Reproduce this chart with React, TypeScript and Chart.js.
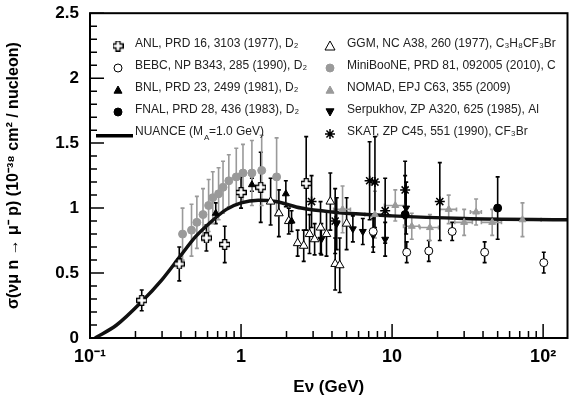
import { useEffect, useRef } from "react"
import { Chart, registerables } from "chart.js"

Chart.register(...registerables)

// [E (GeV), sigma, error]
const anl = [[0.22, 0.29, 0.08], [0.39, 0.57, 0.13], [0.59, 0.77, 0.1], [0.78, 0.72, 0.14], [1.0, 1.12, 0.12], [1.35, 1.16, 0.27], [2.7, 1.19, 0.36]]
const bebc = [[7.5, 0.82, 0.12], [12.5, 0.66, 0.08], [17.5, 0.67, 0.08], [25, 0.82, 0.07], [41, 0.66, 0.08], [101, 0.58, 0.08]]
const bnl = [[0.68, 0.96, 0.08], [1.18, 1.18, 0.05], [1.98, 1.11, 0.1], [2.16, 0.9, 0.08]]
const fnal = [[12.2, 0.95, 0.3], [50, 1.0, 0.24]]
const ggm = [[1.57, 1.05, 0.18], [1.78, 0.96, 0.18], [2.07, 0.9, 0.1], [2.37, 0.73, 0.1], [2.6, 0.71, 0.12], [2.84, 0.8, 0.15], [3.07, 0.76, 0.12], [3.36, 0.85, 0.2], [3.68, 0.8, 0.17], [3.9, 1.05, 0.22], [4.2, 0.57, 0.2], [4.5, 0.56, 0.21], [5.0, 0.88, 0.2]]
const miniboone = [[0.41, 0.8, 0.2], [0.47, 0.83, 0.2], [0.51, 0.89, 0.2], [0.56, 0.95, 0.2], [0.61, 1.02, 0.2], [0.65, 1.08, 0.2], [0.71, 1.11, 0.2], [0.76, 1.16, 0.2], [0.83, 1.21, 0.2], [0.93, 1.24, 0.22], [1.03, 1.27, 0.22], [1.18, 1.27, 0.25], [1.37, 1.29, 0.27], [1.72, 1.24, 0.3]]
const nomad = [[4.7, 0.99, 0.18, 0.6], [7.7, 0.95, 0.18, 1.1], [10.5, 1.02, 0.12, 1.6], [13.5, 0.86, 0.1, 1.6], [17.8, 0.85, 0.1, 2.5], [23.7, 0.99, 0.11, 3], [30, 0.89, 0.1, 4], [36, 0.97, 0.1, 3], [46, 0.89, 0.1, 7], [73, 0.91, 0.13, 24]]
const serpukhov = [[3.4, 0.76, 0.12], [4.3, 0.88, 0.2], [5.5, 0.84, 0.1], [6.4, 0.82, 0.1], [7.5, 0.79, 0.13], [9.0, 0.76, 0.13], [12.4, 1.0, 0.2]]
const skat = [[2.93, 1.05, 0.2], [4.2, 0.9, 0.25], [7.1, 1.21, 0.3], [7.7, 1.2, 0.35], [9.0, 0.98, 0.25], [12.2, 1.14, 0.22], [20.7, 1.05, 0.3]]
const nuanceE = [0.108, 0.15, 0.22, 0.3, 0.39, 0.5, 0.6, 0.8, 1.0, 1.3, 1.7, 2.5, 4, 10, 30, 145]
const nuanceS = [0, 0.1, 0.28, 0.45, 0.62, 0.78, 0.87, 0.99, 1.04, 1.06, 1.05, 1.0, 0.97, 0.94, 0.92, 0.91]

const GREY = "#9a9a9a"
const FONT = "'Liberation Sans', Arial, sans-serif"

const pts = (arr: number[][]) => arr.map((p) => ({ x: p[0], y: p[1], ey: p[2], ex: p[3] }))

// open (outlined) plus marker for ANL
function openCross(): HTMLCanvasElement {
  const c = document.createElement("canvas")
  c.width = 11; c.height = 11
  const g = c.getContext("2d")!
  g.beginPath()
  g.moveTo(3.5, 0.5); g.lineTo(7.5, 0.5); g.lineTo(7.5, 3.5); g.lineTo(10.5, 3.5); g.lineTo(10.5, 7.5); g.lineTo(7.5, 7.5)
  g.lineTo(7.5, 10.5); g.lineTo(3.5, 10.5); g.lineTo(3.5, 7.5); g.lineTo(0.5, 7.5); g.lineTo(0.5, 3.5); g.lineTo(3.5, 3.5); g.closePath()
  g.fillStyle = "#fff"; g.fill()
  g.strokeStyle = "#000"; g.lineWidth = 1.3; g.stroke()
  return c
}

const series: any[] = [
  { label: "ANL, PRD 16, 3103 (1977), D₂", data: pts(anl), pointStyle: "cross", pointRadius: 5, borderWidth: 1, pointBorderColor: "#000", bg: "#fff", err: "#000" },
  { label: "BEBC, NP B343, 285 (1990), D₂", data: pts(bebc), pointStyle: "circle", pointRadius: 4, borderWidth: 1, pointBorderColor: "#000", bg: "#fff", err: "#000" },
  { label: "BNL, PRD 23, 2499 (1981), D₂", data: pts(bnl), pointStyle: "triangle", pointRadius: 4, borderWidth: 1, pointBorderColor: "#000", bg: "#000", err: "#000" },
  { label: "FNAL, PRD 28, 436 (1983), D₂", data: pts(fnal), pointStyle: "circle", pointRadius: 4, borderWidth: 1, pointBorderColor: "#000", bg: "#000", err: "#000" },
  { label: "GGM, NC A38, 260 (1977), C₃H₈CF₃Br", data: pts(ggm), pointStyle: "triangle", pointRadius: 5, borderWidth: 1, pointBorderColor: "#000", bg: "#fff", err: "#000" },
  { label: "MiniBooNE, PRD 81, 092005 (2010), C", data: pts(miniboone), pointStyle: "circle", pointRadius: 4, borderWidth: 1, pointBorderColor: GREY, bg: GREY, err: GREY },
  { label: "NOMAD, EPJ C63, 355 (2009)", data: pts(nomad), pointStyle: "triangle", pointRadius: 4, borderWidth: 1, pointBorderColor: GREY, bg: GREY, err: GREY },
  { label: "Serpukhov, ZP A320, 625 (1985), Al", data: pts(serpukhov), pointStyle: "triangle", rotation: 180, pointRadius: 4, borderWidth: 1, pointBorderColor: "#000", bg: "#000", err: "#000" },
  { label: "SKAT, ZP C45, 551 (1990), CF₃Br", data: pts(skat), pointStyle: "star", pointRadius: 5, borderWidth: 1.5, pointBorderColor: "#000", bg: "#000", err: "#000" },
]

const errorBars = {
  id: "errorBars",
  beforeDatasetsDraw(chart: any) {
    const { ctx, scales } = chart
    const xs = scales.x, ys = scales.y
    ctx.save()
    chart.data.datasets.forEach((ds: any) => {
      if (!ds.err) return
      ctx.strokeStyle = ds.err
      ctx.lineWidth = 1.6
      ds.data.forEach((p: any) => {
        const x = xs.getPixelForValue(p.x)
        const y1 = ys.getPixelForValue(p.y - p.ey)
        const y2 = ys.getPixelForValue(p.y + p.ey)
        ctx.beginPath()
        ctx.moveTo(x, y1); ctx.lineTo(x, y2)
        ctx.moveTo(x - 2, y1); ctx.lineTo(x + 2, y1)
        ctx.moveTo(x - 2, y2); ctx.lineTo(x + 2, y2)
        if (p.ex) {
          const y = ys.getPixelForValue(p.y)
          const a = xs.getPixelForValue(p.x - p.ex), b = xs.getPixelForValue(p.x + p.ex)
          ctx.moveTo(a, y); ctx.lineTo(b, y)
          ctx.moveTo(a, y - 2); ctx.lineTo(a, y + 2)
          ctx.moveTo(b, y - 2); ctx.lineTo(b, y + 2)
        }
        ctx.stroke()
      })
    })
    ctx.restore()
  },
}

function drawMarker(ctx: CanvasRenderingContext2D, ds: any, x: number, y: number) {
  const r = ds.pointRadius
  ctx.beginPath()
  if (ds.image) {
    ctx.drawImage(ds.image, x - 5.5, y - 5.5)
  } else if (ds.pointStyle === "circle") {
    ctx.arc(x, y, r, 0, Math.PI * 2)
    ctx.fill(); ctx.stroke()
  } else if (ds.pointStyle === "triangle") {
    const s = ds.rotation === 180 ? -1 : 1
    ctx.moveTo(x, y - s * r); ctx.lineTo(x + r, y + s * r * 0.8); ctx.lineTo(x - r, y + s * r * 0.8); ctx.closePath()
    ctx.fill(); ctx.stroke()
  } else {
    for (let k = 0; k < 4; k++) {
      const t = (k * Math.PI) / 4
      ctx.moveTo(x - r * Math.cos(t), y - r * Math.sin(t)); ctx.lineTo(x + r * Math.cos(t), y + r * Math.sin(t))
    }
    ctx.stroke()
  }
}

const frame = {
  id: "frame",
  afterDraw(chart: any) {
    const { ctx, chartArea: a, scales } = chart
    ctx.save()
    ctx.strokeStyle = "#000"
    ctx.lineWidth = 1.5
    // inward ticks
    ctx.beginPath()
    for (let d = -1; d <= 2; d++) {
      for (let m = 1; m <= 9; m++) {
        const v = m * Math.pow(10, d)
        if (v < scales.x.min || v > scales.x.max) continue
        const x = scales.x.getPixelForValue(v)
        const len = m === 1 ? 14 : 7
        ctx.moveTo(x, a.bottom); ctx.lineTo(x, a.bottom - len)
      }
    }
    for (let i = 0; i <= 25; i++) {
      const y = scales.y.getPixelForValue(i / 10)
      const len = i % 5 === 0 ? 14 : 7
      ctx.moveTo(a.left, y); ctx.lineTo(a.left + len, y)
    }
    ctx.stroke()
    ctx.lineWidth = 2
    ctx.strokeRect(a.left, a.top, a.right - a.left, a.bottom - a.top)

    // legend
    ctx.font = `12px ${FONT}`
    ctx.textBaseline = "middle"
    const rowH = 22
    chart.data.datasets.forEach((ds: any, i: number) => {
      if (!ds.err) return
      const col = i < 4 ? 0 : 1
      const row = i < 4 ? i : i - 4
      const mx = col === 0 ? 118 : 330
      const y = 46 + row * rowH
      ctx.fillStyle = ds.bg
      ctx.strokeStyle = ds.pointBorderColor
      ctx.lineWidth = ds.borderWidth
      drawMarker(ctx, ds, mx, y)
      ctx.fillStyle = "#222"
      ctx.fillText(ds.label, mx + 17, y - 2)
    })
    ctx.fillStyle = "#000"
    ctx.fillRect(96, 134, 37, 3.5)
    ctx.fillStyle = "#222"
    const t1 = "NUANCE (M"
    ctx.fillText(t1, 135, 132)
    const w1 = ctx.measureText(t1).width
    ctx.fillText("=1.0 GeV)", 135 + w1 + 6, 132)
    ctx.font = `8px ${FONT}`
    ctx.fillText("A", 135 + w1 + 1, 138)
    ctx.restore()
  },
}

const tickLabels: Record<number, string> = { 0.1: "10⁻¹", 1: "1", 10: "10", 100: "10²" }

export default function App() {
  const ref = useRef<HTMLCanvasElement | null>(null)

  useEffect(() => {
    if (!ref.current) return
    const img = openCross()
    series[0].image = img
    const datasets: any[] = series.map((s) => ({
      ...s,
      type: "scatter",
      pointStyle: s.image ? s.image : s.pointStyle,
      backgroundColor: s.bg,
      pointBackgroundColor: s.bg,
      pointBorderWidth: s.borderWidth,
      pointRotation: s.rotation || 0,
    }))
    datasets.push({
      type: "line",
      label: "NUANCE",
      data: nuanceE.map((e, i) => ({ x: e, y: nuanceS[i] })),
      borderColor: "#111",
      borderWidth: 3.5,
      pointRadius: 0,
      cubicInterpolationMode: "monotone",
      order: 10,
    })
    const chart = new Chart(ref.current, {
      type: "scatter",
      data: { datasets },
      plugins: [errorBars, frame],
      options: {
        animation: false,
        responsive: false,
        layout: { padding: { top: 8, right: 4 } },
        plugins: { legend: { display: false }, tooltip: { enabled: false } },
        scales: {
          x: {
            type: "logarithmic",
            min: 0.1,
            max: 145,
            grid: { display: false },
            border: { display: false },
            afterFit: (s: any) => { s.height = 64 },
            afterBuildTicks: (s: any) => { s.ticks = [0.1, 1, 10, 100].map((v) => ({ value: v })) },
            ticks: {
              color: "#000",
              font: { family: FONT, size: 18, weight: "bold" },
              padding: 0,
              maxRotation: 0,
              callback: (v: any) => tickLabels[v as number] ?? "",
            },
            title: { display: true, text: "Eν (GeV)", color: "#000", font: { family: FONT, size: 17, weight: "bold" }, padding: { top: 0 } },
          },
          y: {
            min: 0,
            max: 2.5,
            grid: { display: false },
            border: { display: false },
            afterFit: (s: any) => { s.width = 90 },
            ticks: {
              stepSize: 0.5,
              color: "#000",
              font: { family: FONT, size: 17, weight: "bold" },
              callback: (v: any) => String(v),
            },
            title: { display: true, text: "σ(νμ n → μ⁻ p) (10⁻³⁸ cm² / nucleon)", color: "#000", font: { family: FONT, size: 16, weight: "bold" } },
          },
        },
      } as any,
    })
    return () => chart.destroy()
  }, [])

  return (
    <div style={{ position: "fixed", left: 0, top: 0, width: 574, height: 402, background: "#fff" }}>
      <canvas ref={ref} width={574} height={402} />
    </div>
  )
}
